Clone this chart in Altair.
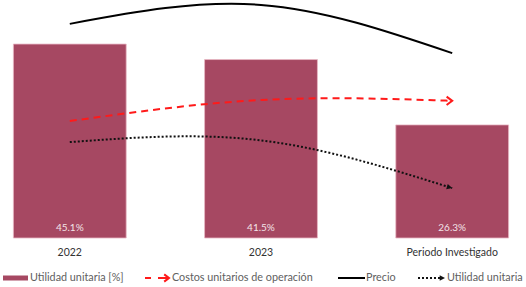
import altair as alt
import pandas as pd

categories = ["2022", "2023", "Periodo Investigado"]
utilidad_pct = [45.1, 41.5, 26.3]
bar_labels = ["45.1%", "41.5%", "26.3%"]
precio = [49.8, 54.2, 43.0]
costos = [27.2, 32.1, 31.9]
utilidad_idx = [22.3, 22.7, 11.6]
legend_labels = ["Utilidad unitaria [%]", "Costos unitarios de operación", "Precio", "Utilidad unitaria"]

BAR = "#A64862"
RED = "#ff1a1a"
FONT = "Lato"
W, H = 522, 238

df = pd.DataFrame({"cat": categories, "util": utilidad_pct, "lab": bar_labels,
                   "precio": precio, "costos": costos, "uidx": utilidad_idx})
last = df.iloc[[-1]].reset_index(drop=True)

xenc = alt.X("cat:N", sort=categories,
             scale=alt.Scale(paddingInner=0.41, paddingOuter=0.07),
             axis=alt.Axis(title=None, labelAngle=0, domain=False, ticks=False,
                           labelPadding=9, labelFontSize=10.5, labelColor="#333333",
                           labelFont=FONT))
xs = alt.X("cat:N", sort=categories)
yscale = alt.Scale(domain=[0, 55.35], nice=False, zero=True)

def yv(field):
    return alt.Y(f"{field}:Q", scale=yscale, axis=None)

base = alt.Chart(df)

bars = base.mark_bar(color=BAR, stroke="#e8b8c4", strokeWidth=0.8).encode(x=xenc, y=yv("util"))
barlab = base.mark_text(color="#f3e3e8", fontSize=10, font=FONT, baseline="middle").encode(
    x=xs, y=alt.value(228), text="lab:N")

precio_line = base.mark_line(color="black", strokeWidth=2, interpolate="natural").encode(
    x=xs, y=yv("precio"))
costos_line = base.mark_line(color=RED, strokeWidth=2, strokeDash=[7, 5],
                             interpolate="natural").encode(x=xs, y=yv("costos"))
costos_arrow = alt.Chart(last).mark_point(shape="M-1.6,-1.2L0,0L-1.6,1.2", size=49, filled=False,
                                          stroke=RED, strokeWidth=2, opacity=1).encode(
    x=xs, y=yv("costos"))
uidx_line = base.mark_line(color="#111111", strokeWidth=2, strokeDash=[2, 2],
                           interpolate="natural").encode(x=xs, y=yv("uidx"))
uidx_arrow = alt.Chart(last).mark_point(shape="M-2,-1L0,0L-2,1Z", size=30, filled=True,
                                        color="#111111", opacity=1, angle=17).encode(
    x=xs, y=yv("uidx"))

# manual legend (layout positions in pixels)
LY = 278
TXT = "#606060"
LFS = 10.8
leg_df = pd.DataFrame({"t": legend_labels})

def lchart(i):
    return alt.Chart(leg_df).transform_filter(alt.datum.t == legend_labels[i])

def ltext(x, i):
    return lchart(i).mark_text(align="left", baseline="middle", fontSize=LFS, font=FONT,
                               color=TXT).encode(x=alt.value(x), y=alt.value(LY), text="t:N")

leg = [
    lchart(0).mark_rect(color=BAR).encode(x=alt.value(3), x2=alt.value(28),
                                          y=alt.value(LY - 2.5), y2=alt.value(LY + 2.5),
                                          detail="t:N"),
    ltext(30, 0),
    lchart(1).mark_rule(color=RED, strokeWidth=2).encode(
        x=alt.value(145), x2=alt.value(151), y=alt.value(LY), detail="t:N"),
    lchart(1).mark_rule(color=RED, strokeWidth=2).encode(
        x=alt.value(158), x2=alt.value(168), y=alt.value(LY), detail="t:N"),
    lchart(1).mark_point(shape="M-1.6,-1.2L0,0L-1.6,1.2", size=36, filled=False,
                         stroke=RED, strokeWidth=2, opacity=1).encode(
        x=alt.value(169), y=alt.value(LY), detail="t:N"),
    ltext(172, 1),
    lchart(2).mark_rule(color="black", strokeWidth=2).encode(
        x=alt.value(338), x2=alt.value(365), y=alt.value(LY), detail="t:N"),
    ltext(366, 2),
    lchart(3).mark_rule(color="#111111", strokeWidth=2, strokeDash=[2, 2]).encode(
        x=alt.value(418), x2=alt.value(440), y=alt.value(LY), detail="t:N"),
    lchart(3).mark_point(shape="M-2,-1L0,0L-2,1Z", size=28, filled=True,
                         color="#111111", opacity=1).encode(
        x=alt.value(445), y=alt.value(LY), detail="t:N"),
    ltext(447, 3),
]

chart = alt.layer(bars, barlab, precio_line, costos_line, costos_arrow, uidx_line, uidx_arrow,
                  *leg).properties(
    width=W, height=H, autosize=alt.AutoSizeParams(type="none"),
    padding={"left": 0, "top": 0, "right": 4, "bottom": 49},
    background="white"
).configure_view(strokeWidth=0)

chart.save("out.html", embed_options={"renderer": "svg", "actions": False})
